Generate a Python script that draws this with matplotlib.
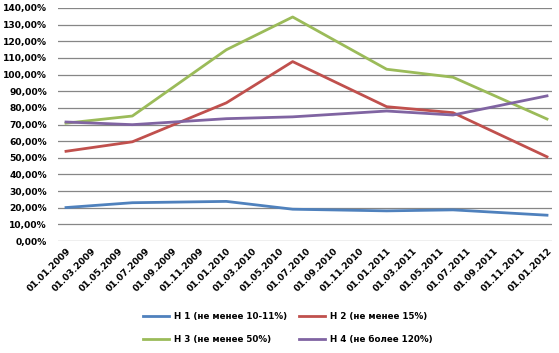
import matplotlib
matplotlib.use("Agg")
import matplotlib.pyplot as plt
import matplotlib.dates as mdates
from matplotlib.ticker import FuncFormatter, MultipleLocator
import datetime as dt

dates = ["01.01.2009", "01.06.2009", "01.01.2010", "01.06.2010",
         "01.01.2011", "01.06.2011", "01.01.2012"]
h1 = [20.1, 23.0, 23.8, 19.1, 18.1, 18.7, 15.5]
h2 = [53.9, 59.6, 83.0, 107.8, 80.7, 77.1, 50.6]
h3 = [70.8, 75.1, 114.9, 134.6, 103.2, 98.4, 73.3]
h4 = [71.5, 69.9, 73.5, 74.6, 78.1, 75.7, 87.2]
labels = ["Н 1 (не менее 10-11%)", "Н 2 (не менее 15%)",
          "Н 3 (не менее 50%)", "Н 4 (не более 120%)"]
colors = ["#4F81BD", "#C0504D", "#9BBB59", "#8064A2"]

x = [dt.datetime.strptime(d, "%d.%m.%Y") for d in dates]

plt.rcParams['font.family'] = ['DejaVu Sans']
fig = plt.figure(figsize=(5.59, 3.53), dpi=100)
ax = fig.add_axes([58/559, 1-241/353, (552-58)/559, (241-8)/353])

lines = []
for ys, c, lab in zip([h1, h2, h3, h4], colors, labels):
    ln, = ax.plot(x, ys, color=c, lw=2.0, label=lab, solid_joinstyle='round')
    lines.append(ln)

# x limits from pixel geometry (0.4393 px/day)
ax.set_xlim(mdates.date2num(x[0]) - 8/0.4393, mdates.date2num(x[-1]) + 5/0.4393)
ax.set_ylim(0, 140)
ax.yaxis.set_major_locator(MultipleLocator(10))
ax.yaxis.set_major_formatter(FuncFormatter(lambda v, p: f"{v:.2f}".replace('.', ',') + "%"))
ax.xaxis.set_major_locator(mdates.MonthLocator(bymonth=[1, 3, 5, 7, 9, 11], bymonthday=1))
ax.xaxis.set_major_formatter(mdates.DateFormatter("%d.%m.%Y"))

ax.grid(axis='y', color='#868686', lw=0.9)
ax.set_axisbelow(True)
for s in ax.spines.values():
    s.set_visible(False)
ax.tick_params(axis='y', length=0, labelsize=6.6, pad=8)
ax.tick_params(axis='x', length=0, labelsize=6.6, pad=4)
for t in ax.get_yticklabels():
    t.set_fontweight('bold')
for t in ax.get_xticklabels():
    t.set_fontweight('bold')
    t.set_rotation(45)
    t.set_ha('right')
    t.set_va('top')
    t.set_rotation_mode('anchor')

order = [0, 2, 1, 3]
leg = fig.legend([lines[i] for i in order], [labels[i] for i in order],
                 ncol=2, loc='center', bbox_to_anchor=(288/559, 1-328/353),
                 frameon=False, prop={'size': 6.3, 'weight': 'bold'},
                 handlelength=3.0, handletextpad=0.6, columnspacing=1.3,
                 labelspacing=1.5)

fig.savefig("out.png", dpi=100, facecolor='white')
